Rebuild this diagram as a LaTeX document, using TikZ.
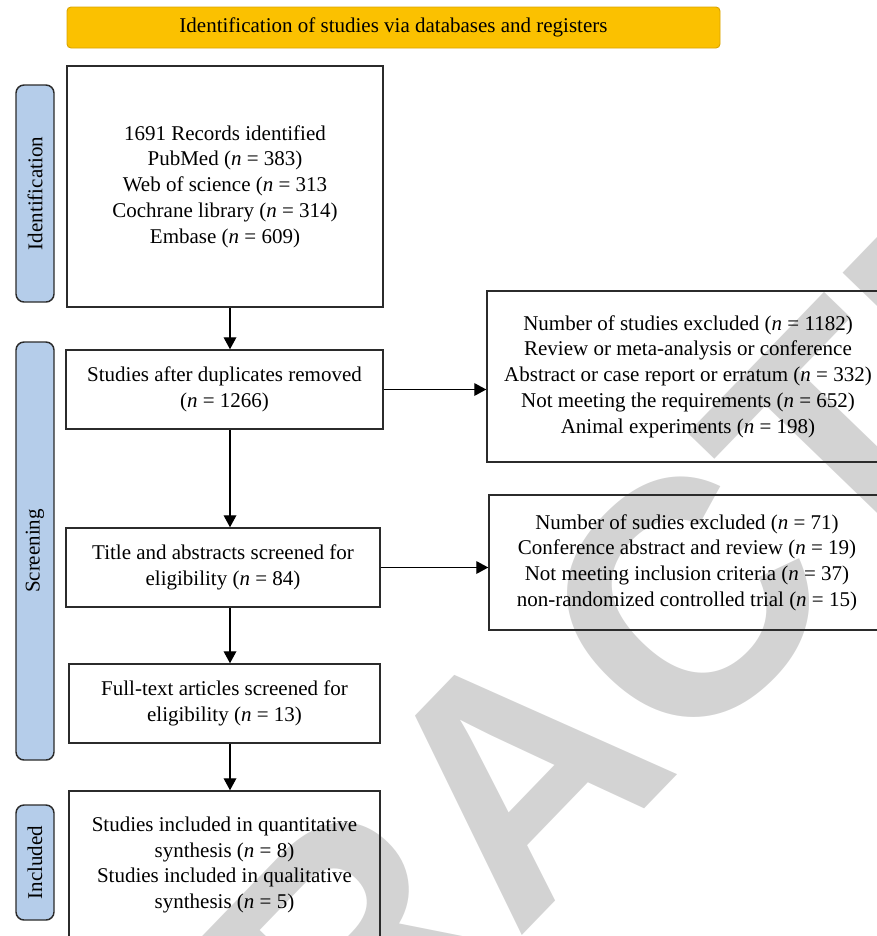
\documentclass[tikz,border=0pt]{standalone}
\usepackage{fontspec}
\setmainfont{Liberation Serif}
\newfontfamily\wmfont{Liberation Sans}
\usetikzlibrary{arrows.meta,positioning,calc}
\definecolor{cgold}{HTML}{FBC100}
\definecolor{cgoldline}{HTML}{D9A300}
\definecolor{cblue}{HTML}{B5CDEA}
\definecolor{cline}{HTML}{2B2B2B}
\definecolor{cwm}{HTML}{D3D3D3}

\begin{document}
\begin{tikzpicture}[x=0.75pt,y=-0.75pt,font=\fontsize{15.75}{19.3}\selectfont,>={Triangle[length=9pt,width=9.5pt]}]
  \tikzstyle{box}=[draw=cline,line width=1.1pt,align=center,inner sep=0pt]
  \tikzstyle{phase}=[draw=cline,line width=1.1pt,fill=cblue,rounded corners=6pt,rotate=90,minimum height=28.5pt,inner sep=0pt]
  \tikzstyle{arr}=[->,draw=black,line width=1pt]
  \useasboundingbox (0,0) rectangle (876,936);
  % watermark
  \node[text=cwm,rotate=46,anchor=base,inner sep=0pt,font=\wmfont\bfseries\fontsize{250}{250}\selectfont] (wm) at (600,855) {RETRACTED};
  % header and phases
  \node[draw=cgoldline,line width=0.7pt,fill=cgold,rounded corners=3pt,minimum width=489.75pt,minimum height=30.75pt] (head) at (393.5,27.5) {Identification of studies via databases and registers};
  \node[phase,minimum width=162.75pt] (idlab) at (35,193.5) {Identification};
  \node[phase,minimum width=313.5pt] (scrlab) at (35,551) {Screening};
  \node[phase,minimum width=86.25pt] (inclab) at (35,862.5) {Included};
  % flow boxes
  \node[box,minimum width=237pt,minimum height=180.75pt] (rec) at (225,186.5) {1691 Records identified\\PubMed (\textit{n} = 383)\\Web of science (\textit{n} = 313\\Cochrane library (\textit{n} = 314)\\Embase (\textit{n} = 609)};
  \node[box,minimum width=237.75pt,minimum height=59.25pt] (dup) at (224.5,389.5) {Studies after duplicates removed\\(\textit{n} = 1266)};
  \node[box,minimum width=235.5pt,minimum height=59.25pt] (title) at (223,567.5) {Title and abstracts screened for\\eligibility (\textit{n} = 84)};
  \node[box,minimum width=233.25pt,minimum height=59.25pt] (full) at (224.5,703.5) {Full-text articles screened for\\eligibility (\textit{n} = 13)};
  \node[box,minimum width=233.25pt,minimum height=111pt] (incl) at (224.5,865) {Studies included in quantitative\\synthesis (\textit{n} = 8)\\Studies included in qualitative\\synthesis (\textit{n} = 5)};
  \node[box,minimum width=301.5pt,minimum height=128.25pt] (ex1) at (688,376.5) {Number of studies excluded (\textit{n} = 1182)\\Review or meta-analysis or conference\\Abstract or case report or erratum (\textit{n} = 332)\\Not meeting the requirements (\textit{n} = 652)\\Animal experiments (\textit{n} = 198)};
  \node[box,minimum width=297pt,minimum height=101.25pt] (ex2) at (687,562.5) {Number of sudies excluded (\textit{n} = 71)\\Conference abstract and review (\textit{n} = 19)\\Not meeting inclusion criteria (\textit{n} = 37)\\non-randomized controlled trial (\textit{n} = 15)};
  % arrows
  \coordinate (sp) at (230,0);
  \draw[arr] (rec.south -| sp) -- (dup.north -| sp);
  \draw[arr] (dup.south -| sp) -- (title.north -| sp);
  \draw[arr] (title.south -| sp) -- (full.north -| sp);
  \draw[arr] (full.south -| sp) -- (incl.north -| sp);
  \draw[arr] (dup.east) -- (dup.east -| ex1.west);
  \draw[arr] (title.east) -- (title.east -| ex2.west);
\end{tikzpicture}
\end{document}
